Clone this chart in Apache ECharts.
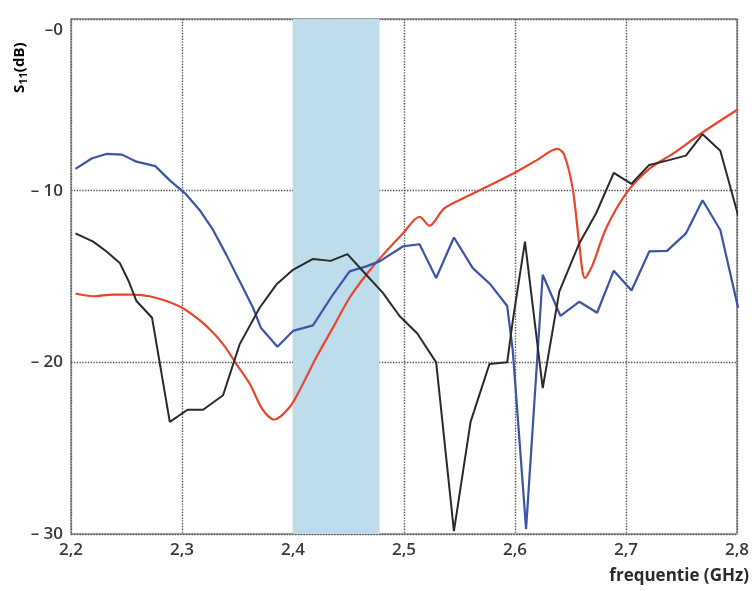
<!DOCTYPE html>
<html>
<head>
<meta charset="utf-8">
<script src="https://cdn.jsdelivr.net/npm/echarts@6/dist/echarts.min.js"></script>
<style>html,body{margin:0;padding:0;background:#fff}#c{width:752px;height:591px}</style>
</head>
<body>
<div id="c"></div>
<script>
var xTicks = [2.2, 2.3, 2.4, 2.5, 2.6, 2.7, 2.8];
var yTicks = [0, -10, -20, -30];
var band = [2.4, 2.478];

var redX = [2.204,2.220,2.238,2.256,2.271,2.286,2.300,2.313,2.325,2.337,2.349,2.361,2.373,2.383,2.397,2.409,2.421,2.436,2.451,2.466,2.481,2.499,2.514,2.523,2.536,2.556,2.574,2.598,2.619,2.638,2.644,2.652,2.658,2.663,2.670,2.682,2.701,2.721,2.742,2.769,2.801];
var redY = [-15.99,-16.15,-16.05,-16.05,-16.15,-16.43,-16.82,-17.40,-18.07,-18.94,-20.10,-21.25,-22.79,-23.33,-22.60,-21.25,-19.71,-17.98,-16.24,-14.90,-13.74,-12.49,-11.52,-12.04,-11.04,-10.36,-9.79,-9.02,-8.25,-7.57,-7.86,-9.88,-13.16,-15.09,-14.32,-12.20,-10.08,-8.73,-7.86,-6.61,-5.26];

var blueX = [2.204,2.219,2.232,2.246,2.259,2.276,2.289,2.303,2.316,2.328,2.340,2.352,2.364,2.371,2.386,2.400,2.418,2.436,2.451,2.466,2.478,2.499,2.514,2.529,2.545,2.562,2.578,2.593,2.598,2.610,2.625,2.641,2.658,2.674,2.689,2.705,2.721,2.737,2.754,2.769,2.785,2.801];
var blueY = [-8.73,-8.11,-7.86,-7.90,-8.31,-8.57,-9.40,-10.17,-11.14,-12.29,-13.74,-15.28,-16.82,-17.98,-19.09,-18.17,-17.85,-16.05,-14.70,-14.41,-14.12,-13.25,-13.12,-15.09,-12.73,-14.51,-15.47,-16.72,-19.3,-29.7,-14.90,-17.30,-16.47,-17.11,-14.66,-15.82,-13.54,-13.51,-12.49,-10.56,-12.29,-16.82];

var blackX = [2.204,2.220,2.232,2.244,2.252,2.259,2.273,2.289,2.305,2.319,2.337,2.352,2.370,2.385,2.400,2.418,2.434,2.449,2.466,2.481,2.496,2.512,2.529,2.545,2.560,2.577,2.593,2.598,2.609,2.625,2.640,2.658,2.673,2.689,2.705,2.721,2.737,2.754,2.769,2.785,2.801];
var blackY = [-12.49,-12.97,-13.54,-14.22,-15.28,-16.43,-17.40,-23.47,-22.76,-22.76,-21.92,-18.94,-16.82,-15.47,-14.61,-13.98,-14.09,-13.70,-14.90,-15.95,-17.30,-18.32,-20.0,-29.83,-23.47,-20.10,-20.0,-17.59,-12.97,-21.50,-15.86,-13.06,-11.33,-8.96,-9.60,-8.50,-8.25,-7.96,-6.71,-7.67,-11.43];

function pairs(xs, ys){ return xs.map(function(x,i){return [x, ys[i]];}); }

var chart = echarts.init(document.getElementById('c'), null, {renderer:'canvas'});
var labelFont = {fontFamily:'Open Sans', fontSize:17, color:'#3a3a3a', fontWeight:600};
chart.setOption({
  backgroundColor:'#ffffff',
  animation:false,
  grid:{left:71, right:13, top:19, bottom:57, show:true, borderColor:'#8a8a8a', borderWidth:1.5, backgroundColor:'transparent'},
  xAxis:{type:'value', min:xTicks[0], max:xTicks[xTicks.length-1], interval:0.1,
    axisLine:{show:false}, axisTick:{show:false},
    axisLabel:Object.assign({margin:8, formatter:function(v){return v.toFixed(1).replace('.',',');}}, labelFont),
    splitLine:{show:true, lineStyle:{type:'dotted', color:'#555', width:1.4}}},
  yAxis:{type:'value', min:yTicks[yTicks.length-1], max:yTicks[0], interval:10,
    axisLine:{show:false}, axisTick:{show:false},
    axisLabel:Object.assign({margin:8, formatter:function(v){ return v===0 ? '{z|–0}' : '– '+Math.abs(v); },
      rich:{z:{fontFamily:'Open Sans', fontSize:17, color:'#3a3a3a', fontWeight:600, padding:[22,0,0,0]}}}, labelFont),
    splitLine:{show:true, lineStyle:{type:'dotted', color:'#555', width:1.4}}},
  series:[
    {type:'line', data:pairs(redX, redY), showSymbol:false, smooth:0.3, lineStyle:{color:'#e8452a', width:2.2}, z:3,
      markArea:{silent:true, itemStyle:{color:'#bddcec', opacity:1}, data:[[{xAxis:band[0]},{xAxis:band[1]}]]}},
    {type:'line', data:pairs(blueX, blueY), showSymbol:false, lineStyle:{color:'#3b54a3', width:2.2}, z:4},
    {type:'line', data:pairs(blackX, blackY), showSymbol:false, lineStyle:{color:'#2a2a2a', width:2}, z:5}
  ],
  graphic:[
    {type:'text', right:3, top:568, style:{text:'frequentie (GHz)', fontFamily:'Open Sans', fontSize:17, fontWeight:'bold', fill:'#2a2a2a'}},
    {type:'text', x:11, y:93, rotation:Math.PI/2,
      style:{text:'{s|S}{sub|11}{s|(dB)}', rich:{
        s:{fontFamily:'Open Sans', fontSize:15, fontWeight:'bold', color:'#2a2a2a'},
        sub:{fontFamily:'Open Sans', fontSize:11, fontWeight:'bold', color:'#2a2a2a', verticalAlign:'bottom', padding:[7,0,0,0]}}}}
  ]
});
</script>
</body>
</html>
